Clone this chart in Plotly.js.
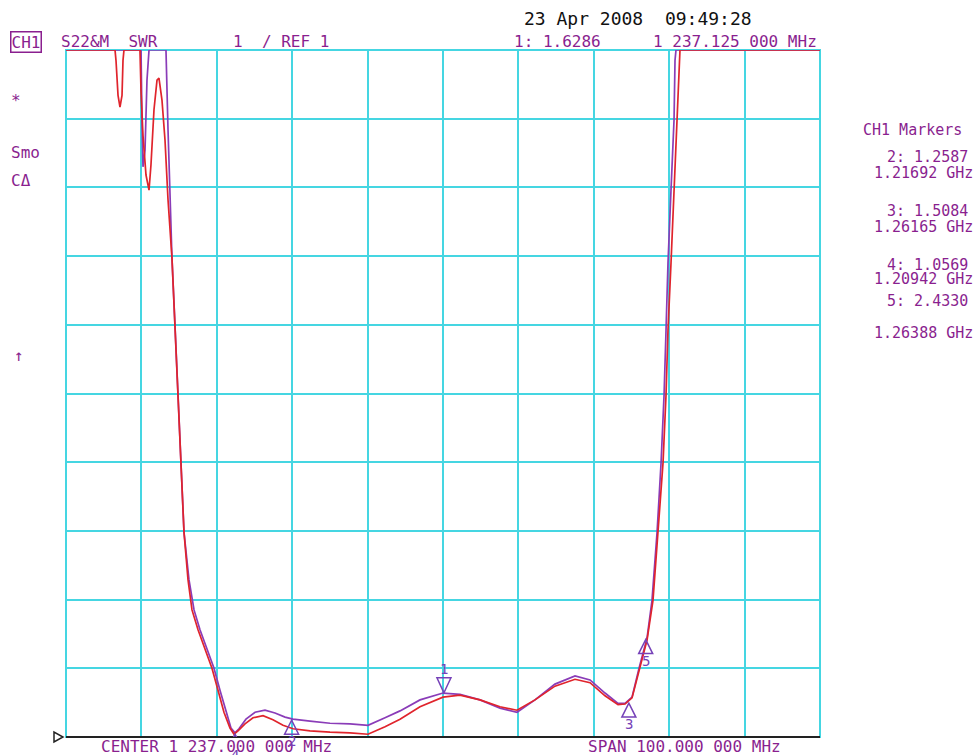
<!DOCTYPE html>
<html>
<head>
<meta charset="utf-8">
<script src="https://cdn.plot.ly/plotly-3.0.1.min.js"></script>
<style>
  html, body { margin: 0; padding: 0; background: #ffffff; }
  #chart { width: 977px; height: 755px; }
</style>
</head>
<body>
<div id="chart"></div>
<script>
// ---------- DATA ----------
// Frequency in MHz, SWR values (display clamps at top = 11)
const redFreqMHz = [1187, 1193.50, 1193.63, 1193.90, 1194.16, 1194.43, 1194.56, 1194.69, 1196.81, 1196.95, 1197.21, 1197.61, 1198.01, 1198.27, 1198.67, 1199.07, 1199.33, 1199.73, 1200.13, 1200.53, 1201.06, 1201.46, 1201.85, 1202.25, 1202.65, 1203.18, 1203.71, 1204.51, 1205.44, 1206.36, 1207.16, 1207.95, 1208.75, 1209.28, 1209.81, 1210.74, 1211.80, 1213.13, 1214.45, 1215.78, 1217.11, 1219.36, 1222.01, 1224.67, 1227.05, 1229.31, 1231.30, 1233.95, 1237.00, 1239.25, 1241.91, 1244.56, 1246.81, 1249.20, 1251.85, 1254.51, 1256.50, 1258.49, 1260.21, 1261.14, 1262.07, 1263.00, 1264.06, 1264.85, 1265.52, 1266.18, 1266.58, 1266.84, 1267.24, 1267.64, 1268.04, 1268.30, 1268.43, 1287];
const redSWR = [11, 11, 10.85, 10.34, 10.17, 10.34, 10.85, 11, 11, 10.40, 9.76, 9.18, 8.96, 9.33, 10.13, 10.56, 10.59, 10.27, 9.69, 8.82, 7.96, 6.98, 5.98, 4.99, 3.98, 3.29, 2.85, 2.56, 2.27, 2.00, 1.68, 1.36, 1.13, 1.04, 1.09, 1.19, 1.28, 1.31, 1.25, 1.17, 1.12, 1.09, 1.07, 1.06, 1.04, 1.15, 1.26, 1.44, 1.58, 1.61, 1.54, 1.44, 1.39, 1.54, 1.74, 1.84, 1.79, 1.60, 1.47, 1.48, 1.57, 1.98, 2.41, 2.99, 3.98, 4.99, 5.98, 6.92, 7.90, 8.96, 9.98, 10.85, 11, 11];

const purpleFreqMHz = [1187, 1196.81, 1196.95, 1197.08, 1197.21, 1197.48, 1197.74, 1198.01, 1200.26, 1200.53, 1200.79, 1201.06, 1201.46, 1201.85, 1202.25, 1202.65, 1203.31, 1203.98, 1204.77, 1205.70, 1206.63, 1207.42, 1208.22, 1208.88, 1209.41, 1209.94, 1210.87, 1212.07, 1213.39, 1214.72, 1216.05, 1217.11, 1219.36, 1222.01, 1224.67, 1227.05, 1229.31, 1231.30, 1233.95, 1237.00, 1239.25, 1241.91, 1244.56, 1246.81, 1249.20, 1251.85, 1254.51, 1256.50, 1258.49, 1260.21, 1261.14, 1262.07, 1263.00, 1264.06, 1264.72, 1265.39, 1265.92, 1266.32, 1266.58, 1266.84, 1267.24, 1267.64, 1267.77, 1267.90, 1287];
const purpleSWR = [11, 11, 11, 9.98, 9.30, 9.54, 10.56, 11, 11, 9.84, 8.82, 7.96, 6.98, 5.98, 4.99, 3.98, 3.29, 2.85, 2.56, 2.27, 2.00, 1.68, 1.36, 1.13, 1.06, 1.12, 1.26, 1.36, 1.39, 1.35, 1.29, 1.26, 1.23, 1.20, 1.19, 1.17, 1.28, 1.38, 1.54, 1.64, 1.62, 1.54, 1.42, 1.36, 1.54, 1.77, 1.89, 1.83, 1.64, 1.49, 1.49, 1.58, 2.00, 2.44, 2.99, 3.98, 4.99, 5.98, 6.92, 7.90, 8.96, 9.98, 10.85, 11, 11];

const markerNum = ['1', '2', '3', '4', '5'];
const markerFreqMHz = [1237.125, 1216.92, 1261.65, 1209.42, 1263.88];
const markerSWR = [1.6286, 1.2587, 1.5084, 1.0569, 2.4330];

const centerLabel = 'CENTER 1 237.000 000 MHz';
const spanLabel = 'SPAN 100.000 000 MHz';
const dateLabel = '23 Apr 2008  09:49:28';

// ---------- STYLE ----------
const W = 977, H = 755;
const M = { l: 66, r: 157, t: 50, b: 18 };
const PW = W - M.l - M.r, PH = H - M.t - M.b;
const FONT = 'DejaVu Sans Mono, Liberation Mono, monospace';
const TXT = '#8a1f8f';
const GRID = '#45d6e2';
const RED = '#e0242c';
const PURPLE = '#8a3cb8';
const MK = '#7642b8';

const px2x = px => (px - M.l) / PW;
const py2y = py => (H - M.b - py) / PH;

function txt(text, left, cy, opts) {
  opts = opts || {};
  return Object.assign({
    xref: 'paper', yref: 'paper',
    x: px2x(left), y: py2y(cy),
    xanchor: 'left', yanchor: 'middle',
    text: text, showarrow: false,
    font: { family: FONT, size: 16, color: TXT },
    borderpad: 0
  }, opts);
}

const traces = [
  { x: purpleFreqMHz, y: purpleSWR, type: 'scatter', mode: 'lines',
    line: { color: PURPLE, width: 1.7 }, hoverinfo: 'skip' },
  { x: redFreqMHz, y: redSWR, type: 'scatter', mode: 'lines',
    line: { color: RED, width: 1.7 }, hoverinfo: 'skip' }
];

const annotations = [
  txt(dateLabel, 523, 18, { font: { family: FONT, size: 18, color: '#111111' } }),
  txt('CH1', 10, 42, { bordercolor: TXT, borderwidth: 1.5, borderpad: 0 }),
  txt('S22&amp;M  SWR', 60, 42),
  txt('1  / REF 1', 232, 42),
  txt(markerNum[0] + ': ' + markerSWR[0].toFixed(4), 513, 42),
  txt('1 237.125 000 MHz', 652, 42),
  txt('*', 10, 100),
  txt('Smo', 10, 152),
  txt('CΔ', 10, 181),
  txt('↑', 13, 355),
  txt('CH1 Markers', 862, 130, { font: { family: FONT, size: 15, color: TXT } }),
  txt(centerLabel, 100, 746),
  txt(spanLabel, 587, 746)
];

// right-side marker readout (markers 2..5)
const valueY = [157, 211, 265, 301];
const freqY = [173, 227, 279, 333];
for (let i = 1; i < markerNum.length; i++) {
  annotations.push(txt(markerNum[i] + ': ' + markerSWR[i].toFixed(4), 969, valueY[i - 1],
    { xanchor: 'right', font: { family: FONT, size: 15, color: TXT } }));
  annotations.push(txt((markerFreqMHz[i] / 1000).toFixed(5) + ' GHz', 974, freqY[i - 1],
    { xanchor: 'right', font: { family: FONT, size: 15, color: TXT } }));
}

const shapes = [
  // plot frame
  { type: 'rect', xref: 'paper', yref: 'paper', x0: 0, x1: 1, y0: 0, y1: 1,
    line: { color: GRID, width: 2 }, layer: 'below' },
  // reference line (bottom)
  { type: 'line', xref: 'paper', yref: 'paper', x0: 0, x1: 1, y0: 0, y1: 0,
    line: { color: '#222222', width: 2 }, layer: 'above' },
  // reference position pointer
  { type: 'path', xref: 'paper', yref: 'paper', xsizemode: 'pixel', ysizemode: 'pixel',
    xanchor: 0, yanchor: 0, path: 'M-12,5 L-12,-5 L-3,0 Z',
    line: { color: '#222222', width: 1.5 }, fillcolor: 'rgba(0,0,0,0)' }
];

// marker triangles and numbers
for (let i = 0; i < markerNum.length; i++) {
  const above = (i === 0);
  shapes.push({
    type: 'path', xref: 'x', yref: 'y', xsizemode: 'pixel', ysizemode: 'pixel',
    xanchor: markerFreqMHz[i], yanchor: markerSWR[i],
    path: above ? 'M0,1 L-7,16 L7,16 Z' : 'M0,-1 L-7,-15 L7,-15 Z',
    line: { color: MK, width: 1.5 }, fillcolor: 'rgba(0,0,0,0)', layer: 'above'
  });
  annotations.push({
    xref: 'x', yref: 'y', x: markerFreqMHz[i], y: markerSWR[i],
    yshift: above ? 25 : -22, text: markerNum[i], showarrow: false,
    xanchor: 'center', yanchor: 'middle',
    font: { family: FONT, size: 14, color: MK }
  });
}

const layout = {
  width: W, height: H,
  margin: { l: M.l, r: M.r, t: M.t, b: M.b, pad: 0 },
  paper_bgcolor: '#ffffff', plot_bgcolor: '#ffffff',
  showlegend: false,
  xaxis: { range: [1187, 1287], tick0: 1187, dtick: 10, showticklabels: false, ticks: '',
           showgrid: true, gridcolor: GRID, gridwidth: 2, zeroline: false, showline: false, fixedrange: true },
  yaxis: { range: [1, 11], tick0: 1, dtick: 1, showticklabels: false, ticks: '',
           showgrid: true, gridcolor: GRID, gridwidth: 2, zeroline: false, showline: false, fixedrange: true },
  annotations: annotations,
  shapes: shapes
};

Plotly.newPlot('chart', traces, layout, { staticPlot: true, displayModeBar: false });
</script>
</body>
</html>
